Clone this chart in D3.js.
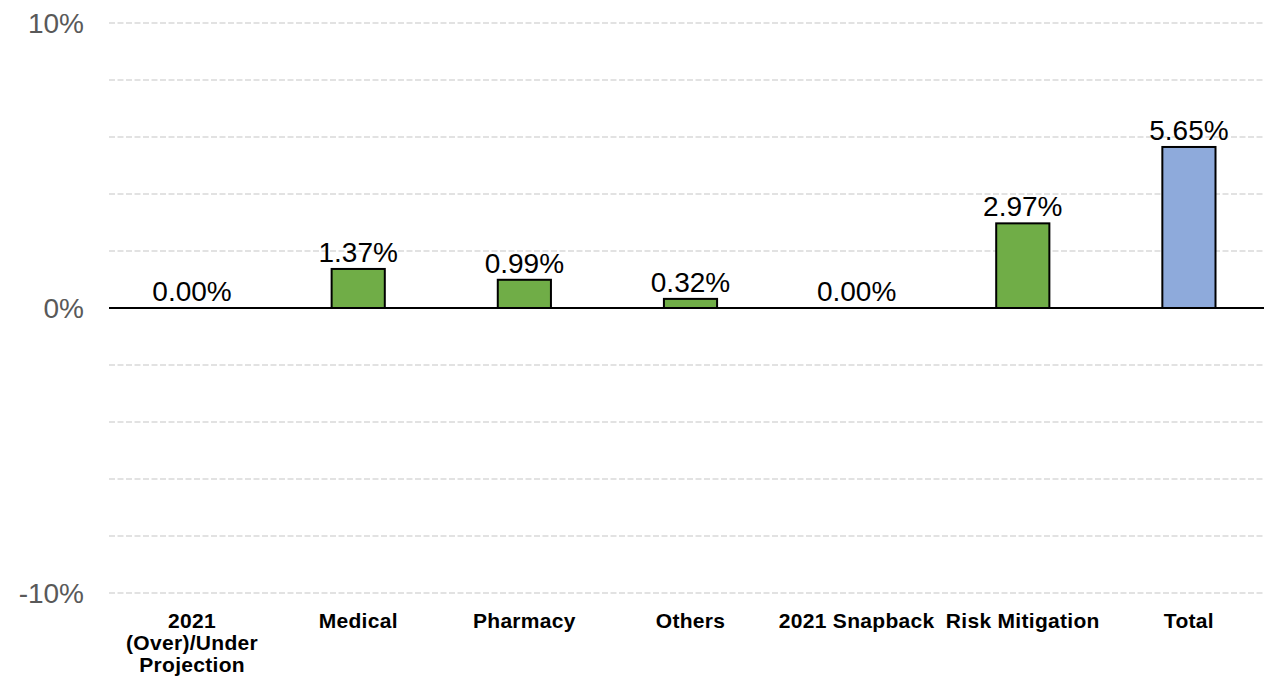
<!DOCTYPE html>
<html>
<head>
<meta charset="utf-8">
<script src="https://cdn.jsdelivr.net/npm/d3@7"></script>
<style>
  html, body { margin: 0; padding: 0; background: #fff; }
  svg { display: block; font-family: "Liberation Sans", Arial, sans-serif; }
</style>
</head>
<body>
<div id="chart"></div>
<script>
// chart data
const categories = ["2021 (Over)/Under Projection", "Medical", "Pharmacy", "Others", "2021 Snapback", "Risk Mitigation", "Total"];
const values = [0.00, 1.37, 0.99, 0.32, 0.00, 2.97, 5.65];
const kinds = ["step", "step", "step", "step", "step", "step", "total"];
const yTicks = [-10, 0, 10];
const gridTicks = [-10, -8, -6, -4, -2, 2, 4, 6, 8, 10];

const width = 1264, height = 679;
const margin = { top: 23, right: -8, bottom: 86, left: 109 };

const fill = { step: "#70ad47", total: "#8eaadb" };

const svg = d3.select("#chart").append("svg")
  .attr("width", width)
  .attr("height", height);

const x = d3.scaleBand()
  .domain(categories)
  .range([margin.left, width - margin.right])
  .paddingInner(0.68)
  .paddingOuter(0.34);

const y = d3.scaleLinear()
  .domain([-10, 10])
  .range([height - margin.bottom, margin.top]);

// dashed gridlines
svg.append("g")
  .selectAll("line")
  .data(gridTicks)
  .join("line")
  .attr("x1", margin.left)
  .attr("x2", width)
  .attr("y1", d => y(d))
  .attr("y2", d => y(d))
  .attr("stroke", "#d9d9d9")
  .attr("stroke-width", 1.3)
  .attr("stroke-dasharray", "6,2.5");

// y tick labels
svg.append("g")
  .selectAll("text")
  .data(yTicks)
  .join("text")
  .attr("x", 84)
  .attr("y", d => y(d))
  .attr("dy", "0.36em")
  .attr("text-anchor", "end")
  .style("font-size", "28px")
  .style("fill", "#595959")
  .text(d => d + "%");

// bars
svg.append("g")
  .selectAll("rect")
  .data(values)
  .join("rect")
  .attr("x", (d, i) => x(categories[i]))
  .attr("width", x.bandwidth())
  .attr("y", d => y(Math.max(0, d)))
  .attr("height", d => Math.abs(y(d) - y(0)))
  .attr("fill", (d, i) => fill[kinds[i]])
  .attr("stroke", (d) => d === 0 ? "none" : "#000")
  .attr("stroke-width", 2);

// zero line
svg.append("line")
  .attr("x1", margin.left)
  .attr("x2", width)
  .attr("y1", y(0))
  .attr("y2", y(0))
  .attr("stroke", "#000")
  .attr("stroke-width", 2);

// value labels
svg.append("g")
  .selectAll("text")
  .data(values)
  .join("text")
  .attr("x", (d, i) => x(categories[i]) + x.bandwidth() / 2)
  .attr("y", d => y(Math.max(0, d)) - 7)
  .attr("text-anchor", "middle")
  .style("font-size", "28px")
  .style("fill", "#000")
  .text(d => d.toFixed(2) + "%");

// category labels, wrapped to band width
const step = x.step();
const labels = svg.append("g")
  .selectAll("text")
  .data(categories)
  .join("text")
  .attr("x", d => x(d) + x.bandwidth() / 2)
  .attr("y", 628)
  .attr("text-anchor", "middle")
  .style("font-size", "21px")
  .style("font-weight", "bold")
  .style("letter-spacing", "0.3px")
  .style("fill", "#000");

labels.each(function (d) {
  const text = d3.select(this);
  const cx = +text.attr("x");
  const words = d.split(" ");
  let line = [];
  let tspan = text.append("tspan").attr("x", cx).attr("dy", 0);
  for (const w of words) {
    line.push(w);
    tspan.text(line.join(" "));
    if (tspan.node().getComputedTextLength() > step && line.length > 1) {
      line.pop();
      tspan.text(line.join(" "));
      line = [w];
      tspan = text.append("tspan").attr("x", cx).attr("dy", 22).text(w);
    }
  }
});
</script>
</body>
</html>
